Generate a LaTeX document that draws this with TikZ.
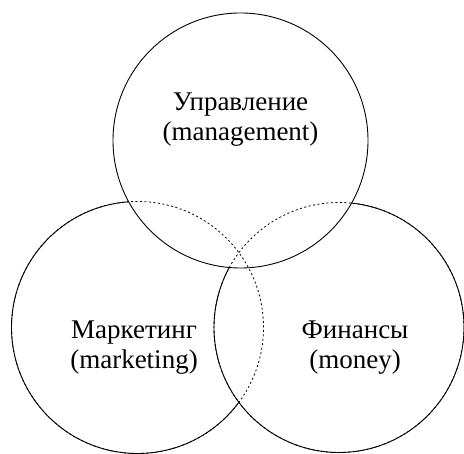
\documentclass[tikz,border=0pt]{standalone}
\usepackage{fontspec}
\setmainfont{Liberation Serif}
\tikzset{
  hidden/.style={line width=.8pt,dash pattern=on 2pt off 2.5pt},
  outline/.style={line width=.9pt},
  venntext/.style={align=center,font=\fontsize{27}{30}\selectfont}
}
\begin{document}
\begin{tikzpicture}[x=1pt,y=1pt]
\useasboundingbox (0,0) rectangle (464,454);
\clip (0,0) rectangle (464,454);
\coordinate (T) at (240.5,313.5);
\coordinate (L) at (137.5,126.5);
\coordinate (R) at (339,126.5);
\draw[hidden] (L) circle (126);
\draw[hidden] (R) circle (125);
\begin{scope}[even odd rule]
\clip (0,0) rectangle (464,454) (T) circle (127.5);
\clip (0,0) rectangle (464,454) (R) circle (125);
\draw[outline] (L) circle (126);
\end{scope}
\begin{scope}[even odd rule]
\clip (0,0) rectangle (464,454) (T) circle (127.5);
\draw[outline] (R) circle (125);
\end{scope}
\draw[outline] (T) circle (127.5);
\node[venntext] (mgmt) at (240.5,334) {Управление\\(management)};
\node[venntext] (mkt) at (134,106) {Маркетинг\\(marketing)};
\node[venntext] (fin) at (355,106) {Финансы\\(money)};
\end{tikzpicture}
\end{document}
